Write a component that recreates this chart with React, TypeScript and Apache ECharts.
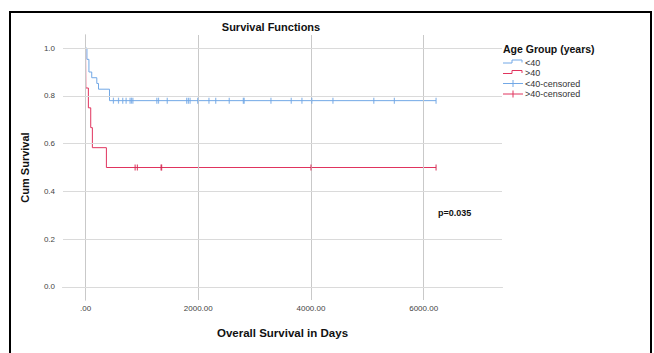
import React, { useEffect, useRef } from "react";
import * as echarts from "echarts";

// Kaplan-Meier step data
const blueTimes = [0, 25, 60, 110, 200, 230, 425, 6220];
const blueSurv = [1, 0.953, 0.9, 0.876, 0.852, 0.828, 0.78, 0.78];
const redTimes = [0, 5, 50, 92, 121, 370, 6220];
const redSurv = [1, 0.833, 0.75, 0.667, 0.583, 0.5, 0.5];

// censored observation times
const blueCensored = [495, 585, 660, 720, 790, 815, 840, 1265, 1295, 1450, 1795, 1825, 1855, 1990, 2190, 2310, 2550, 2800, 2815, 3290, 3650, 3840, 4015, 4390, 5115, 5480, 6220];
const redCensored = [880, 920, 1340, 1350, 4000, 6220];

const xGridValues = [0, 2000, 4000, 6000];
const yGridValues = [0, 0.2, 0.4, 0.6, 0.8, 1.0];

const seriesNames = ["<40", ">40", "<40-censored", ">40-censored"];
const pValueText = "p=0.035";

const BLUE = "#72a8e6";
const RED = "#e0345e";
const FONT = "'Liberation Sans', Arial, sans-serif";

function survAt(times: number[], surv: number[], t: number) {
  let s = surv[0];
  for (let i = 0; i < times.length; i++) {
    if (times[i] <= t) s = surv[i];
  }
  return s;
}

export default function App() {
  const ref = useRef<HTMLDivElement>(null);
  useEffect(() => {
    if (!ref.current) return;
    const chart = echarts.init(ref.current, null, { renderer: "svg" });
    const blueData = blueTimes.map((t, i) => [t, blueSurv[i]]);
    const redData = redTimes.map((t, i) => [t, redSurv[i]]);
    const blueCens = blueCensored.map((t) => [t, survAt(blueTimes, blueSurv, t)]);
    const redCens = redCensored.map((t) => [t, survAt(redTimes, redSurv, t)]);

    const lx = 503;
    const legendYs = [62.5, 73, 83.5, 94];
    const legendGraphics: any[] = [];
    legendGraphics.push({
      type: "text",
      x: lx,
      y: 48.5,
      style: { text: "Age Group (years)", font: `bold 10.5px ${FONT}`, fill: "#111", verticalAlign: "middle" },
    });
    [BLUE, RED].forEach((c, i) => {
      const y = legendYs[i];
      legendGraphics.push({
        type: "polyline",
        shape: { points: [[lx, y + 0.5], [lx + 9, y + 0.5], [lx + 9, y - 2.5], [lx + 19, y - 2.5], [lx + 19, y]] },
        style: { stroke: c, lineWidth: 1, fill: "none" },
      });
    });
    [BLUE, RED].forEach((c, i) => {
      const y = legendYs[i + 2];
      legendGraphics.push({ type: "line", shape: { x1: lx, y1: y, x2: lx + 20, y2: y }, style: { stroke: c, lineWidth: 1 } });
      legendGraphics.push({ type: "line", shape: { x1: lx + 10, y1: y - 3.5, x2: lx + 10, y2: y + 3.5 }, style: { stroke: c, lineWidth: 1 } });
    });
    seriesNames.forEach((n, i) => {
      legendGraphics.push({
        type: "text",
        x: lx + 22,
        y: legendYs[i],
        style: { text: n, font: `9px ${FONT}`, fill: "#333", verticalAlign: "middle" },
      });
    });

    chart.setOption({
      animation: false,
      backgroundColor: "#fff",
      grid: { left: 63, top: 35, right: 152, bottom: 53, containLabel: false },
      xAxis: {
        type: "value",
        min: -400,
        max: 7390,
        interval: 400,
        name: "Overall Survival in Days",
        nameLocation: "middle",
        nameGap: 27,
        nameTextStyle: { fontFamily: FONT, fontWeight: "bold", fontSize: 11.5, color: "#111" },
        axisLine: { show: true, lineStyle: { color: "#a8a8a8", width: 1 } },
        axisTick: { show: false },
        splitLine: { show: false },
        axisLabel: {
          interval: 0,
          hideOverlap: false,
          showMinLabel: true,
          showMaxLabel: true,
          margin: 4,
          fontFamily: FONT,
          fontSize: 8,
          color: "#444",
          formatter: (v: number) => {
            const r = Math.round(v);
            if (r % 2000 !== 0 || r < 0) return "";
            return r === 0 ? ".00" : r.toFixed(2);
          },
        },
      },
      yAxis: {
        type: "value",
        min: -0.055,
        max: 1.055,
        interval: 0.005,
        name: "Cum Survival",
        nameLocation: "middle",
        nameGap: 33,
        nameTextStyle: { fontFamily: FONT, fontWeight: "bold", fontSize: 11, color: "#111" },
        axisLine: { show: true, lineStyle: { color: "#a8a8a8", width: 1 } },
        axisTick: { show: false },
        splitLine: { show: false },
        axisLabel: {
          interval: 0,
          hideOverlap: false,
          margin: 8,
          fontFamily: FONT,
          fontSize: 8,
          color: "#444",
          formatter: (v: number) => {
            const r = Math.round(v * 10);
            if (Math.abs(v * 10 - r) > 1e-6 || r % 2 !== 0 || r < 0) return "";
            return (r / 10).toFixed(1);
          },
        },
      },
      graphic: [
        {
          type: "text",
          x: 271,
          y: 27,
          style: { text: "Survival Functions", font: `bold 11px ${FONT}`, fill: "#111", align: "center", verticalAlign: "middle" },
        },
        {
          type: "text",
          x: 438,
          y: 213,
          style: { text: pValueText, font: `bold 9px ${FONT}`, fill: "#111", verticalAlign: "middle" },
        },
        ...legendGraphics,
        {
          type: "rect",
          shape: { x: 10, y: 12, width: 641, height: 360 },
          style: { fill: "none", stroke: "#000", lineWidth: 2 },
          silent: true,
        },
      ],
      series: [
        {
          type: "line",
          name: "grid",
          data: [],
          silent: true,
          z: 1,
          markLine: {
            silent: true,
            symbol: ["none", "none"],
            label: { show: false },
            animation: false,
            data: [
              ...xGridValues.map((v) => ({ xAxis: v, lineStyle: { color: "#c9c9c9", width: 1, type: "solid" } })),
              ...yGridValues.map((v) => ({ yAxis: v, lineStyle: { color: "#dadada", width: 1, type: "solid" } })),
            ],
          },
        },
        {
          type: "line",
          name: seriesNames[0],
          data: blueData,
          step: "end",
          showSymbol: false,
          symbol: "none",
          lineStyle: { color: BLUE, width: 1 },
          z: 3,
        },
        {
          type: "line",
          name: seriesNames[1],
          data: redData,
          step: "end",
          showSymbol: false,
          symbol: "none",
          lineStyle: { color: RED, width: 1 },
          z: 4,
        },
        {
          type: "scatter",
          name: seriesNames[2],
          data: blueCens,
          symbol: "rect",
          symbolSize: [1.2, 6],
          itemStyle: { color: BLUE },
          z: 5,
        },
        {
          type: "scatter",
          name: seriesNames[3],
          data: redCens,
          symbol: "rect",
          symbolSize: [1.2, 6],
          itemStyle: { color: "#d42a52" },
          z: 6,
        },
      ],
    });
    return () => chart.dispose();
  }, []);
  return (
    <div style={{ position: "fixed", left: 0, top: 0, width: 654, height: 353, background: "#fff" }}>
      <div ref={ref} style={{ width: 654, height: 353 }} />
    </div>
  );
}
